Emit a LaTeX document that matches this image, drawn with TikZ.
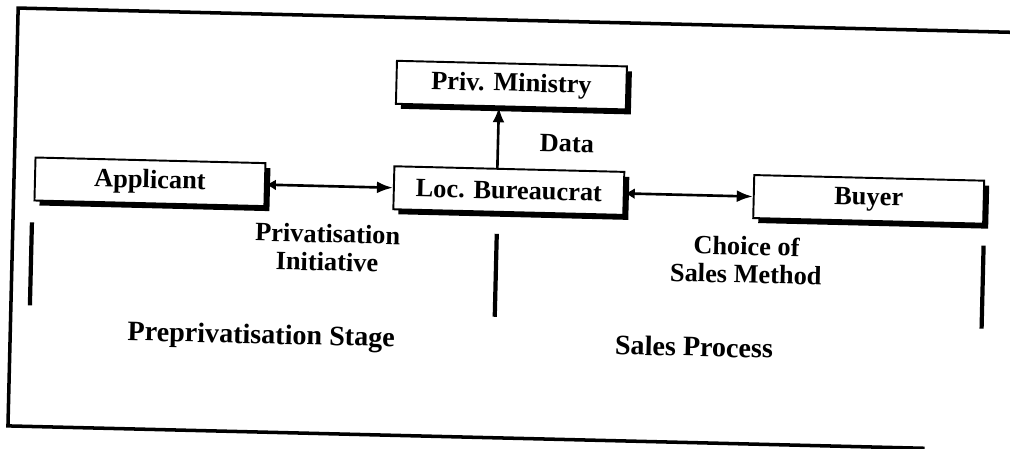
\documentclass[tikz,border=0pt]{standalone}
\usepackage{fontspec}
\setmainfont{Liberation Serif}
\usetikzlibrary{arrows.meta,shadows}

\begin{document}
\begin{tikzpicture}[>={Latex[length=3mm,width=2.4mm]},
  actor/.style={draw, line width=1.1pt, fill=white, minimum width=4.6cm, minimum height=0.86cm,
    font=\bfseries\fontsize{15}{17}\selectfont,
    drop shadow={shadow xshift=0.1cm, shadow yshift=-0.1cm, fill=black, opacity=1}},
  note/.style={font=\bfseries\fontsize{15}{16}\selectfont, align=center},
  stage/.style={font=\bfseries\fontsize{16}{18}\selectfont},
  flow/.style={line width=1.5pt, {Latex[length=2mm,width=2.2mm]}-{Latex[length=3.2mm,width=2.4mm]}},
  divider/.style={line width=2.4pt}]
  \useasboundingbox (0,0) rectangle (20.2,8.98);
  \clip (0,0) rectangle (20.2,8.98);
  \begin{scope}[rotate around={-1.4:(10.1,4.49)}, transform shape]
  % Frame
  \draw[line width=2pt] (20.9,8.58) -- (0.26,8.58) -- (0.26,0.22) -- (18.6,0.22);

  % Actors
  \node[actor] (priv) at (10.16, 7.28) {Priv. Ministry};
  \node[actor] (loc) at (10.16, 5.17) {Loc. Bureaucrat};
  \node[actor] (appl) at (2.98, 5.17) {Applicant};
  \node[actor] (buyer) at (17.36, 5.17) {Buyer};

  \draw[flow] (appl.east) -- (loc.west);
  \draw[flow] (loc.east) -- (buyer.west);
  \draw[line width=1.5pt, ->] ([xshift=-0.24cm]loc.north) -- ([xshift=-0.24cm]priv.south);

  % Labels
  \node[note] (data) at (11.30, 6.14) {Data};
  \node[note] (init) at (6.56, 3.94) {Privatisation\\Initiative};
  \node[note] (choice) at (14.94, 3.90) {Choice of\\Sales Method};

  % Stages
  \draw[divider] (0.64, 4.30) -- (0.64, 2.64);
  \draw[divider] (9.94, 4.30) -- (9.94, 2.64);
  \draw[divider] (19.68, 4.30) -- (19.68, 2.64);
  \node[stage] (pre) at (5.28, 2.12) {Preprivatisation Stage};
  \node[stage] (sales) at (13.94, 2.14) {Sales Process};
  \end{scope}
\end{tikzpicture}
\end{document}
